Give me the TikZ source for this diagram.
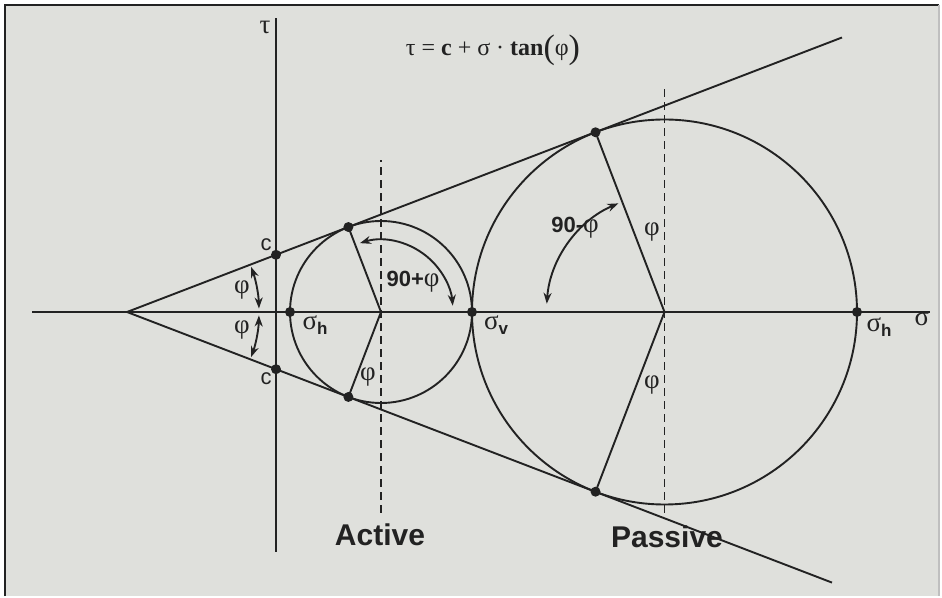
\documentclass[tikz,border=0pt]{standalone}
\usepackage{fontspec}
\setmainfont{Liberation Serif}
\setsansfont{Liberation Sans}
\usetikzlibrary{arrows.meta}
\definecolor{ink}{HTML}{222222}
\definecolor{bg}{HTML}{DFE0DC}
\newcommand{\sg}[1]{σ\raisebox{-5pt}{\sffamily\bfseries\fontsize{17}{17}\selectfont #1}}
\begin{document}
\begin{tikzpicture}[
  ln/.style={line width=1.9pt, draw=ink},
  dsh/.style={line width=1.9pt, draw=ink, dash pattern=on 8pt off 5pt},
  dot/.style={circle, fill=ink, inner sep=0pt, minimum size=10pt},
  arr/.style={line width=1.9pt, draw=ink, {Stealth[length=11pt,width=8pt]}-{Stealth[length=11pt,width=8pt]}},
  gr/.style={font=\fontsize{27}{30}\selectfont, text=ink, inner sep=0pt},
  sf/.style={font=\sffamily\fontsize{22}{24}\selectfont, text=ink, inner sep=0pt},
  big/.style={font=\sffamily\bfseries\fontsize{30}{34}\selectfont, text=ink, inner sep=0pt},
  ang/.style={font=\sffamily\bfseries\fontsize{22}{24}\selectfont, text=ink, inner sep=0pt}
]
% frame
\fill[white] (0,0) rectangle (942pt,596pt);
\fill[bg] (5pt,0) rectangle (939pt,591pt);
\draw[line width=2pt, draw=ink] (5pt,0) -- (5pt,591pt) -- (939pt,591pt);
\draw[line width=1.5pt, draw=black!25] (939pt,591pt) -- (939pt,0);
\useasboundingbox (0,0) rectangle (942pt,596pt);
\begin{scope}[x=1pt,y=1pt]
\coordinate (A) at (127,284);
\coordinate (S) at (381,284);
\coordinate (L) at (664.5,284);
\coordinate (U) at (842,558.5);
\coordinate (D) at (832,13.4);
\coordinate (X0) at (32,284);
\coordinate (X1) at (930,284);
\coordinate (T0) at (276,44);
\coordinate (T1) at (276,578);
% axes
\draw[ln] (X0) -- (X1);
\draw[ln] (T0) -- (T1);
% cone lines
\draw[ln] (A) -- (U);
\draw[ln] (A) -- (D);
% circles
\draw[ln] (S) circle[radius=91];
\draw[ln] (L) circle[radius=192.5];
% dashed verticals
\coordinate (sd0) at (381,83);
\coordinate (sd1) at (381,436);
\coordinate (ld0) at (664.5,83);
\coordinate (ld1) at (664.5,508);
\draw[dsh] (sd0) -- (sd1);
\draw[dsh] (ld0) -- (ld1);
% dots
\node[dot] (cu) at (276,341.2) {};
\node[dot] (cd) at (276,226.8) {};
\node[dot] (sh) at (290,284) {};
\node[dot] (sv) at (472,284) {};
\node[dot] (lh) at (857,284) {};
\node[dot] (st1) at ([shift={(111:91)}]S) {};
\node[dot] (st2) at ([shift={(249:91)}]S) {};
\node[dot] (lt1) at ([shift={(111:192.5)}]L) {};
\node[dot] (lt2) at ([shift={(249:192.5)}]L) {};
% radii
\draw[ln] (S) -- (st1.center);
\draw[ln] (S) -- (st2.center);
\draw[ln] (L) -- (lt1.center);
\draw[ln] (L) -- (lt2.center);
% angle arcs
\draw[arr] ([shift={(20:132)}]A) arc[start angle=20, end angle=1.5, radius=132];
\draw[arr] ([shift={(-1.5:132)}]A) arc[start angle=-1.5, end angle=-20, radius=132];
\draw[arr] ([shift={(107:72)}]S) arc[start angle=107, end angle=5, radius=72];
\draw[arr] ([shift={(113:118)}]L) arc[start angle=113, end angle=176, radius=118];
% labels
\node[gr] (tau) at (265,569) {τ};
\node[gr, font=\fontsize{24}{26}\selectfont] (eq) at (493,546) {τ = \textbf{c} + σ · \textbf{tan}\raisebox{-3pt}{\fontsize{34}{34}\selectfont(}φ\raisebox{-3pt}{\fontsize{34}{34}\selectfont)}};
\node[sf] (cl1) at (266,351) {c};
\node[sf] (cl2) at (266,217) {c};
\node[gr] (p1) at (242,306) {φ};
\node[gr] (p2) at (242,266) {φ};
\node[gr] (lsh) at (315,271) {\sg{h}};
\node[gr] (lsv) at (496,271) {\sg{v}};
\node[gr] (llh) at (879,269) {\sg{h}};
\node[gr] (lsig) at (922,277) {σ};
\node[ang] (a1) at (413,314) {90+\textmd{\rmfamily\fontsize{27}{28}\selectfont φ}};
\node[ang] (a2) at (575,368) {90-\textmd{\rmfamily\fontsize{27}{28}\selectfont φ}};
\node[gr] (p3) at (368,219) {φ};
\node[gr] (p4) at (652,364) {φ};
\node[gr] (p5) at (652,211) {φ};
\node[big] (act) at (380,61) {Active};
\node[big] (pas) at (667,59) {Passive};
\end{scope}
\end{tikzpicture}
\end{document}
